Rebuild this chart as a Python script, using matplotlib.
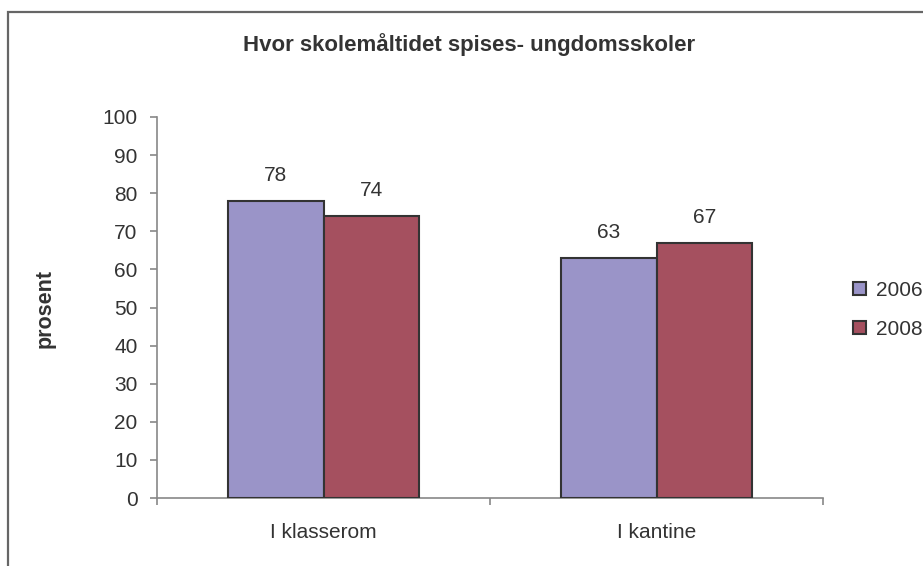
import matplotlib
matplotlib.use("Agg")
import matplotlib.pyplot as plt
from matplotlib.patches import Rectangle
import numpy as np

plt.rcParams['font.family'] = ['Liberation Sans', 'DejaVu Sans']

title = "Hvor skolemåltidet spises- ungdomsskoler"
categories = ["I klasserom", "I kantine"]
series_names = ["2006", "2008"]
values_2006 = [78, 63]
values_2008 = [74, 67]
colors = ["#9A94C8", "#A5505F"]
text_color = "#333333"
fs = 15

W, H = 923, 566
fig = plt.figure(figsize=(W / 100, H / 100), dpi=100)

# outer chart frame (runs off the right and bottom edges)
fig.patches.append(Rectangle((8 / W, -0.1), 1.2, (H - 12) / H + 0.1,
                             transform=fig.transFigure, fill=False,
                             edgecolor="#666666", linewidth=1.6))

ax = fig.add_axes([157 / W, (H - 498) / H, 666 / W, 381 / H])

centers = np.arange(len(categories)) + 0.5
bw = 0.288
series = [values_2006, values_2008]
for i, (vals, name, col) in enumerate(zip(series, series_names, colors)):
    x = centers + (i - 0.5) * bw
    ax.bar(x, vals, width=bw, color=col, edgecolor="#333333",
           linewidth=1.5, label=name, zorder=3)
    for xi, v in zip(x, vals):
        ax.text(xi, v + 4.2, f"{v}", ha="center", va="bottom",
                fontsize=fs, color=text_color)

ax.set_xlim(0, len(categories))
ax.set_ylim(0, 100)
ax.set_yticks(np.arange(0, 101, 10))
ax.set_xticks(np.arange(0, len(categories) + 1))
ax.set_xticklabels([])
ax.set_xticks(centers, minor=True)
ax.set_xticklabels(categories, minor=True)
ax.tick_params(axis="x", which="minor", length=0, pad=18,
               labelsize=fs, labelcolor=text_color)
ax.tick_params(axis="x", which="major", length=5, direction="out",
               color="#888888", width=1.2)
ax.tick_params(axis="y", length=5, direction="out", color="#888888",
               width=1.2, labelsize=fs, labelcolor=text_color, pad=9)

for s in ["top", "right"]:
    ax.spines[s].set_visible(False)
for s in ["left", "bottom"]:
    ax.spines[s].set_color("#888888")
    ax.spines[s].set_linewidth(1.2)

fig.text(469 / W, 1 - 45 / H, title, ha="center", va="center",
         fontsize=16, fontweight="bold", color=text_color)
fig.text(45 / W, 1 - 308 / H, "prosent", ha="center", va="center",
         rotation=90, fontsize=15.5, fontweight="bold", color=text_color)

leg = fig.legend(loc="upper left", bbox_to_anchor=(853 / W, 1 - 281 / H),
                 frameon=False, fontsize=fs, handlelength=0.62,
                 handleheight=0.62, handletextpad=0.5, labelspacing=0.95,
                 borderaxespad=0, borderpad=0)
for t in leg.get_texts():
    t.set_color(text_color)

fig.savefig("out.png", dpi=100)
